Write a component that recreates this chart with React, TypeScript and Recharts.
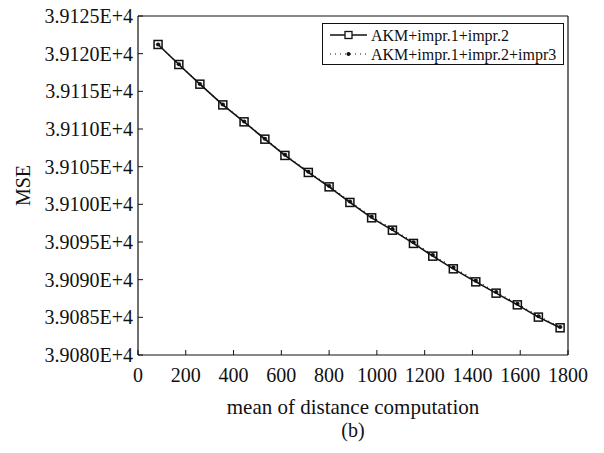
import React from "react";
import { LineChart, Line, XAxis, YAxis, Label } from "recharts";

// mean number of distance computations (x) and MSE for both variants
const distance = [84, 171, 259, 355, 444, 531, 615, 713, 800, 887, 978, 1065, 1153, 1234, 1320, 1414, 1499, 1588, 1676, 1767];
const mseImpr12 = [
  39121.22, 39118.56, 39115.95, 39113.2, 39110.95, 39108.65, 39106.49, 39104.23, 39102.32, 39100.25,
  39098.21, 39096.57, 39094.81, 39093.12, 39091.44, 39089.71, 39088.21, 39086.66, 39085.03, 39083.61,
];
const mseImpr123 = [
  39121.22, 39118.58, 39115.97, 39113.24, 39111.0, 39108.72, 39106.58, 39104.34, 39102.45, 39100.38,
  39098.36, 39096.72, 39094.97, 39093.28, 39091.6, 39089.87, 39088.36, 39086.8, 39085.16, 39083.72,
];
const xTicks = [0, 200, 400, 600, 800, 1000, 1200, 1400, 1600, 1800];
const yTicks = [39080, 39085, 39090, 39095, 39100, 39105, 39110, 39115, 39120, 39125];
const seriesNames = ["AKM+impr.1+impr.2", "AKM+impr.1+impr.2+impr3"];

const data = distance.map((d, i) => ({ d, a: mseImpr12[i], b: mseImpr123[i] }));

const FONT = '"Liberation Serif", "Times New Roman", serif';
const INK = "#111";

const fmtY = (v: number) => (v / 1e4).toFixed(4) + "E+4";

function Square(props: any) {
  const { cx, cy, index } = props;
  return <rect key={`sq-${index}`} x={cx - 4} y={cy - 4} width={8} height={8} fill="none" stroke={INK} strokeWidth={1.5} />;
}

function XLabels(props: any) {
  const vb = props.viewBox;
  const cx = vb.x + vb.width / 2;
  return (
    <g fontFamily={FONT} fill={INK}>
      <text x={cx} y={vb.y + 52} dy="0.35em" textAnchor="middle" fontSize={21}>mean of distance computation</text>
      <text x={cx} y={vb.y + 75} dy="0.35em" textAnchor="middle" fontSize={20}>(b)</text>
    </g>
  );
}

function LegendBox() {
  return (
    <div
      style={{
        position: "absolute",
        left: 322,
        top: 23,
        width: 242,
        height: 42,
        border: `1px solid ${INK}`,
        background: "#fff",
        boxSizing: "border-box",
      }}
    >
      <svg width={240} height={40} style={{ position: "absolute", left: 0, top: 0 }}>
        <line x1={7} x2={44} y1={11} y2={11} stroke={INK} strokeWidth={1.5} />
        <rect x={22} y={7.5} width={7} height={7} fill="#fff" stroke={INK} strokeWidth={1.3} />
        <line x1={7} x2={44} y1={30} y2={30} stroke={INK} strokeWidth={1.2} strokeDasharray="1 4" />
        <circle cx={25.5} cy={30} r={2} fill={INK} />
        <text x={48} y={11} dy="0.35em" fontFamily={FONT} fontSize={16} fill={INK}>{seriesNames[0]}</text>
        <text x={48} y={30} dy="0.35em" fontFamily={FONT} fontSize={16} fill={INK}>{seriesNames[1]}</text>
      </svg>
    </div>
  );
}

export default function App() {
  const tickStyle = { fontFamily: FONT, fontSize: 20, fill: INK };
  return (
    <div style={{ position: "absolute", left: 0, top: 0, width: 604, height: 453, background: "#fff" }}>
      <LineChart width={604} height={453} data={data} margin={{ top: 15, right: 35, bottom: 38, left: 0 }}>
        <XAxis
          xAxisId="bottom"
          dataKey="d"
          type="number"
          domain={[0, 1800]}
          ticks={xTicks}
          height={60}
          tickSize={-5}
          tickMargin={18}
          tick={tickStyle}
          axisLine={{ stroke: INK, strokeWidth: 1.2 }}
          tickLine={{ stroke: INK }}
        >
          <Label content={XLabels} />
        </XAxis>
        <XAxis
          xAxisId="top"
          orientation="top"
          dataKey="d"
          type="number"
          domain={[0, 1800]}
          ticks={xTicks}
          height={1}
          tickSize={-5}
          tick={false}
          axisLine={{ stroke: INK, strokeWidth: 1.2 }}
          tickLine={{ stroke: INK }}
        />
        <YAxis
          yAxisId="left"
          type="number"
          domain={[39080, 39125]}
          ticks={yTicks}
          width={138}
          tickSize={-5}
          tickMargin={10}
          tickFormatter={fmtY}
          tick={tickStyle}
          axisLine={{ stroke: INK, strokeWidth: 1.2 }}
          tickLine={{ stroke: INK }}
        >
          <Label
            value="MSE"
            angle={-90}
            position="insideLeft"
            offset={23}
            style={{ fontFamily: FONT, fontSize: 20, fill: INK, textAnchor: "middle" }}
          />
        </YAxis>
        <YAxis
          yAxisId="right"
          orientation="right"
          type="number"
          domain={[39080, 39125]}
          ticks={yTicks}
          width={1}
          tickSize={-5}
          tick={false}
          axisLine={{ stroke: INK, strokeWidth: 1.2 }}
          tickLine={{ stroke: INK }}
        />
        <Line
          xAxisId="bottom"
          yAxisId="left"
          dataKey="a"
          type="linear"
          stroke={INK}
          strokeWidth={1.6}
          dot={Square}
          isAnimationActive={false}
        />
        <Line
          xAxisId="bottom"
          yAxisId="left"
          dataKey="b"
          type="linear"
          stroke={INK}
          strokeWidth={1.2}
          strokeDasharray="1 4"
          dot={{ r: 2, fill: INK, stroke: INK, strokeWidth: 0.5 }}
          isAnimationActive={false}
        />
      </LineChart>
      <LegendBox />
    </div>
  );
}
